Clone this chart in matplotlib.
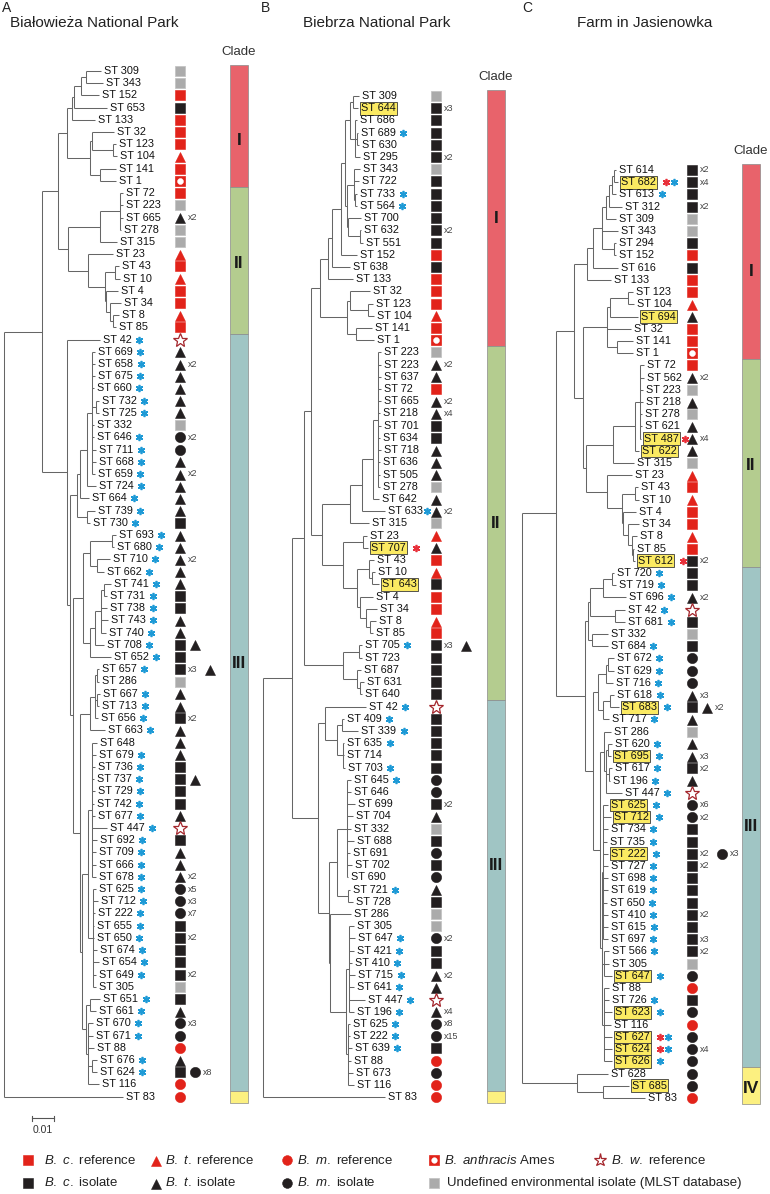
import re
import matplotlib
matplotlib.use('Agg')
import matplotlib.pyplot as plt
from matplotlib.patches import Rectangle
from matplotlib.collections import LineCollection

plt.rcParams['font.family'] = ['Liberation Sans', 'DejaVu Sans']
plt.rcParams['mathtext.fontset'] = 'custom'
plt.rcParams['mathtext.rm'] = 'Liberation Sans'
plt.rcParams['mathtext.it'] = 'Liberation Sans:italic'

# ------------------------------------------------------------------ data
PANEL_LETTERS = ['A', 'B', 'C']
PANEL_TITLES = ['Białowieża National Park', 'Biebrza National Park', 'Farm in Jasienowka']
CLADE_NAMES = ['I', 'II', 'III', 'IV']
CLADE_COLORS = ['#E8636B', '#B4CC8F', '#A0C5C4', '#FCF080']

# tree depths: distance from the root in units where 22 units = 0.01 substitutions/site
UNITS_PER_SUBST = 2200.0
SCALE_BAR_VALUE = 0.01

# ---- Panel A : Bialowieza National Park
A_LABELS = [309, 343, 152, 653, 133, 32, 123, 104, 141, 1,
            72, 223, 665, 278, 315, 23, 43, 10, 4, 34, 8, 85,
            42, 669, 658, 675, 660, 732, 725, 332, 646, 711, 668, 659, 724, 664, 739, 730,
            693, 680, 710, 662, 741, 731, 738, 743, 740, 708, 652,
            657, 286, 667, 713, 656, 663, 648, 679, 736, 737, 729, 742, 677, 447, 692, 709, 666, 678,
            625, 712, 222, 655, 650, 674, 654, 649, 305, 651, 661, 670, 671, 88, 676, 624, 116, 83]
A_SYMBOLS = ['G', 'G', 'Rs', 'Ks', 'Rs', 'Rs', 'Rs', 'Rt', 'Rs', 'Ba',
             'Rs', 'G', 'Kt2', 'G', 'G', 'Rt', 'Rs', 'Rt', 'Rs', 'Rs', 'Rt', 'Rs',
             'Bw', 'Kt', 'Kt2', 'Kt', 'Kt', 'Kt', 'Kt', 'G', 'Kc2', 'Kc', 'Kt', 'Kt2', 'Kt', 'Kt', 'Kt', 'Ks',
             'Kt', 'Kt', 'Kt2', 'Kt', 'Kt', 'Ks', 'Ks', 'Kt', 'Kt', 'Ks Kt', 'Ks',
             'Ks3 Kt', 'G', 'Kt', 'Kt', 'Ks2', 'Kt', 'Kt', 'Kt', 'Ks', 'Ks Kt', 'Ks', 'Ks', 'Kt', 'Bw', 'Ks', 'Kt', 'Kt', 'Kt2',
             'Kc5', 'Kc3', 'Kc7', 'Ks', 'Ks2', 'Ks', 'Ks', 'Ks2', 'G', 'Ks', 'Kt', 'Kc3', 'Kc', 'Rc', 'Kt', 'Ks Kc8', 'Rc', 'Rc']
# b = blue asterisk, r = red asterisk, x = red + blue, - = none
A_STARS = ('----------' '------------' 'bbbbbbb-bbbbbbbb' 'bbbbbbbbbbb'
           'b-bbbb-bbbbbbbbbbb' 'bbbbbbbb-bbbb-bb--')
A_HIGHLIGHT = '-' * 85
A_NEWICK = (
    "((("
    "(((((309:97,343:99):82,152:95):77,653:103):70,133:91):68,"
    "((32:110,(123:112,104:113):109):88,(141:112,1:112):96):86):63,"
    "(((72:119,223:119,665:119,278:117):116,315:113):96,"
    "(23:109,((43:115,10:116):111,(4:114,(34:117,(8:115,85:112):109):106):102):101):84):64"
    "):54,"
    "(42:96,("
    "((((669:91,658:91,675:91,660:90,(732:95,725:95):92,332:90,646:90,711:92,668:92,659:91):88,"
    "724:92):83,664:85):76,(739:91,730:86):83):73,"
    "((((693:112,680:110):108,(710:106,662:100):93):86,"
    "((((741:107,731:103):100,738:103,743:104,740:102):97,708:100):91,652:107):86):79,"
    "((((657:95,286:95):93,(667:96,713:95):93,656:94):91,663:101):86,"
    "(((648:93,679:92,736:91,737:90,729:91,742:90,677:91,447:103,692:93,709:92,666:92,678:92):88,"
    "(625:92,712:94,222:91,655:90,650:90,674:93,654:95,649:92,305:92):89):84,"
    "((651:96,661:92):86,(670:89,671:89,88:90,(676:93,624:93):88,116:95):84):82):78):76):69"
    "):66):63"
    "):38,83:119):0")
A_CLADE_ROWS = [(0, 9), (10, 21), (22, 83), (84, 84)]
A_CLADE_LABEL_ROWS = [5.7, 15.8, 48.5, None]

# ---- Panel B : Biebrza National Park
B_LABELS = [309, 644, 686, 689, 630, 295, 343, 722, 733, 564, 700, 632, 551, 152, 638, 133,
            32, 123, 104, 141, 1,
            223, 223, 637, 72, 665, 218, 701, 634, 718, 636, 505, 278, 642, 633, 315,
            23, 707, 43, 10, 643, 4, 34, 8, 85,
            705, 723, 687, 631, 640,
            42, 409, 339, 635, 714, 703,
            645, 646, 699, 704, 332, 688, 691, 702, 690, 721, 728,
            286, 305, 647, 421, 410, 715, 641, 447, 196, 625, 222, 639, 88, 673, 116,
            83]
B_SYMBOLS = ['G', 'Ks3', 'Ks', 'Ks', 'Ks', 'Ks2', 'G', 'Ks', 'Ks', 'Ks', 'Ks', 'Ks2', 'Ks', 'Rs', 'Ks', 'Rs',
             'Rs', 'Rs', 'Rt', 'Rs', 'Ba',
             'G', 'Kt2', 'Kt', 'Rs', 'Kt2', 'Kt4', 'Ks', 'Ks', 'Kt', 'Kt', 'Kt', 'G', 'Kt', 'Kt2', 'G',
             'Rt', 'Kt', 'Rs', 'Rt', 'Ks', 'Rs', 'Rs', 'Rt', 'Rs',
             'Ks3 Kt', 'Ks', 'Ks', 'Ks', 'Ks',
             'Bw', 'Ks', 'Ks', 'Ks', 'Ks', 'Ks',
             'Kc', 'Kc', 'Ks2', 'Kt', 'G', 'Ks', 'Kc', 'Ks', 'Kc', 'Kt', 'Ks',
             'G', 'G', 'Kc2', 'Ks', 'Ks', 'Kt2', 'Kt', 'Bw', 'Kt4', 'Kc8', 'Kc15', 'Ks', 'Rc', 'Kc', 'Rc',
             'Rc']
B_STARS = ('---b----bb------' '-----' '-------------b-' '-r-------' 'b----'
           'bbbb-b' 'b--------b-' '--bbbbbbbbbb---' '-')
B_HIGHLIGHT = ('-h--------------' '-----' '---------------' '-h--h----' '-----'
               '------' '-----------' '---------------' '-')
B_NEWICK = (
    "(((("
    "("
    "((((((309:96,644:95):90,(686:94,(689:95,630:96):94,295:97):92):87,"
    "((343:97,722:96,(733:94,564:94):92):91,(700:98,(632:98,551:100):97):85):84):82,"
    "152:94):78,638:87):69,133:90):65,"
    "((32:107,(123:110,104:111):105):87,(141:109,1:111):93):84):57,"
    "(((((223:118,223:118,637:118,72:118,665:118,218:117,701:118,634:117,718:118,636:117,"
    "505:117,278:117):115,642:116):110,633:122):99,315:106):87,"
    "((23:104,707:105):100,((43:111,(10:112,643:116):109):106,"
    "(4:110,(34:114,(8:113,85:110):107):103):97):94):80):59"
    "):48,"
    "((705:99,723:99):96,(687:98,(631:101,640:99):97):94):80"
    "):41,"
    "((42:103,((409:81,339:95):79,(635:81,714:81,703:82):80):74):62,"
    "(((645:88,646:88,699:92,704:90,332:88,688:91,691:87,702:89,690:85):84,(721:87,728:90):85):74,"
    "(286:88,((305:91,647:92,421:91,410:89,715:92,641:91,447:102,196:91):86,"
    "(625:87,222:87,639:89,88:88,673:90,116:91):85):83):67):66):55"
    "):29,83:122):0")
B_CLADE_ROWS = [(0, 20), (21, 49), (50, 81), (82, 82)]
B_CLADE_LABEL_ROWS = [10.0, 35.0, 63.0, None]

# ---- Panel C : Farm in Jasienowka
C_LABELS = [614, 682, 613, 312, 309, 343, 294, 152, 616, 133,
            123, 104, 694, 32, 141, 1,
            72, 562, 223, 218, 278, 621, 487, 622, 315,
            23, 43, 10, 4, 34, 8, 85, 612,
            720, 719, 696, 42, 681, 332, 684,
            672, 629, 716, 618, 683, 717,
            286, 620, 695, 617, 196, 447,
            625, 712, 734, 735, 222, 727, 698, 619, 650, 410, 615, 697,
            566, 305, 647,
            88, 726, 623, 116, 627, 624, 626,
            628, 685, 83]
C_SYMBOLS = ['Ks2', 'Ks4', 'Ks', 'Ks2', 'G', 'G', 'Ks', 'Rs', 'Ks', 'Rs',
             'Rs', 'Rt', 'Kt', 'Rs', 'Rs', 'Ba',
             'Rs', 'Kt2', 'G', 'Kt', 'G', 'Kt', 'Kt4', 'Kt', 'G',
             'Rt', 'Rs', 'Rt', 'Rs', 'Rs', 'Rt', 'Rs', 'Ks2',
             'Ks', 'Ks', 'Kt2', 'Bw', 'Ks', 'G', 'Ks',
             'Kc', 'Kc', 'Kc', 'Kt3', 'Ks Kt2', 'Kt',
             'G', 'Kt', 'Kt3', 'Ks2', 'Kt', 'Bw',
             'Kc6', 'Kc2', 'Ks', 'Ks', 'Ks2 Kc3', 'Ks2', 'Ks', 'Ks', 'Ks', 'Ks2', 'Ks', 'Ks3',
             'Ks2', 'G', 'Kc',
             'Rc', 'Ks', 'Kc', 'Rc', 'Kc', 'Kc4', 'Kc',
             'Kc', 'Kc', 'Rc']
C_STARS = ('-xb-------' '------' '------r--' '-------r' 'bbbbb-b' 'bbbbbb'
           '-bbbbb' 'bbbbbbbbbbbb' 'b-b' '-bb-xxb' '---')
C_HIGHLIGHT = ('-h--------' '--h---' '------hh-' '-------h' '-------' '----h-'
               '--h---' 'hh--h-------' '--h' '--h-hhh' '-h-')
C_NEWICK = (
    "((("
    "(((((((614:94,682:96):92,613:94):90,312:100):87,309:94):84,343:96,(294:94,152:94):92):80,"
    "616:96):71,133:89):65,"
    "((((123:111,104:112):106,694:116):88,32:109,(141:111,1:111):95):85,"
    "((((72:122,562:122,223:121,218:121,278:120,621:120,487:119):118,622:117):113,315:112):91,"
    "(23:110,((43:116,10:117):113,(4:114,(34:117,(8:115,(85:112,612:113):111):110):106):101):100):85"
    "):64):61):52,"
    "(((((720:92,719:94):90,696:104):81,(42:103,681:103):93):68,(332:86,684:86):70):66,"
    "((((672:92,629:92):86,716:91):84,((618:92,683:97):88,717:87):81):76,"
    "((286:89,((620:90,695:89):86,(617:90,196:88):87,447:100):84):82,"
    "((625:86,712:89,734:86,735:85,222:86,727:86,698:86,619:86,650:85,410:86,615:86,697:86):81,"
    "(566:87,305:87,647:90):82,(88:87,726:87,623:90,116:89,627:90,624:90,626:90):82):80):78):71):63"
    "):34,"
    "(628:86,(685:107,83:123):81):55):0")
C_CLADE_ROWS = [(0, 15), (16, 32), (33, 73), (74, 76)]
C_CLADE_LABEL_ROWS = [8.35, 24.2, 53.8, 75.2]

LEGEND_ROW1 = [('Rs', r'$\mathit{B.\ c.}$ reference'),
               ('Rt', r'$\mathit{B.\ t.}$ reference'),
               ('Rc', r'$\mathit{B.\ m.}$ reference'),
               ('Ba', r'$\mathit{B.\ anthracis}$ Ames'),
               ('Bw', r'$\mathit{B.\ w.}$ reference')]
LEGEND_ROW2 = [('Ks', r'$\mathit{B.\ c.}$ isolate'),
               ('Kt', r'$\mathit{B.\ t.}$ isolate'),
               ('Kc', r'$\mathit{B.\ m.}$ isolate'),
               ('G', 'Undefined environmental isolate (MLST database)')]

# ------------------------------------------------------------------ layout / style
W, H = 770, 1194
PANELS = [
    dict(labels=A_LABELS, symbols=A_SYMBOLS, stars=A_STARS, hl=A_HIGHLIGHT, newick=A_NEWICK,
         clade_rows=A_CLADE_ROWS, clade_lab=A_CLADE_LABEL_ROWS,
         root_x=4, y0=71, col_x=180, bar_x=230, letter_x=2, title_x=10),
    dict(labels=B_LABELS, symbols=B_SYMBOLS, stars=B_STARS, hl=B_HIGHLIGHT, newick=B_NEWICK,
         clade_rows=B_CLADE_ROWS, clade_lab=B_CLADE_LABEL_ROWS,
         root_x=263, y0=96, col_x=436, bar_x=487, letter_x=261, title_x=303),
    dict(labels=C_LABELS, symbols=C_SYMBOLS, stars=C_STARS, hl=C_HIGHLIGHT, newick=C_NEWICK,
         clade_rows=C_CLADE_ROWS, clade_lab=C_CLADE_LABEL_ROWS,
         root_x=522, y0=170, col_x=692, bar_x=742, letter_x=522, title_x=577),
]
DY = 12.21
PX_PER_UNIT = 1.0
BAR_W = 18
RED = '#E2231A'
BLACK = '#231F20'
GRAY = '#ABABAB'
BLUE_STAR = '#1E9AD6'
RED_STAR = '#E8303A'
LINE_COL = '#666666'
LABEL_FS = 7.8


def parse_newick(s):
    s = s.replace(' ', '')
    pos = 0

    def node():
        nonlocal pos
        kids = []
        name = None
        if s[pos] == '(':
            pos += 1
            kids.append(node())
            while s[pos] == ',':
                pos += 1
                kids.append(node())
            assert s[pos] == ')', s[pos:pos + 20]
            pos += 1
        else:
            m = re.match(r'[^:,()]+', s[pos:])
            name = m.group(0)
            pos += len(name)
        assert s[pos] == ':', s[pos:pos + 20]
        pos += 1
        m = re.match(r'[0-9.]+', s[pos:])
        pos += len(m.group(0))
        return {'name': name, 'depth': float(m.group(0)), 'kids': kids}

    root = node()
    assert pos == len(s), s[pos:]
    return root


def draw_symbol(ax, x, y, code, scale=1.0):
    base = code[0]
    if code == 'G':
        ax.plot(x, y, marker='s', ms=7 * scale, mfc=GRAY, mec='#C4C4C4', mew=0.6, zorder=4)
        return
    if code == 'Ba':
        ax.plot(x, y, marker='s', ms=7 * scale, mfc=RED, mec=RED, mew=0.5, zorder=4)
        ax.plot(x, y, marker='o', ms=4.3 * scale, mfc='white', mec='white', mew=0.3, zorder=5)
        return
    if code == 'Bw':
        ax.plot(x, y, marker='*', ms=10 * scale, mfc='white', mec='#A4262C', mew=0.9, zorder=4)
        return
    color = RED if base == 'R' else BLACK
    shape = code[1]
    if shape == 's':
        ax.plot(x, y, marker='s', ms=7 * scale, mfc=color, mec=color, mew=0.4, zorder=4)
    elif shape == 't':
        ax.plot(x, y + 0.6, marker='^', ms=7.4 * scale, mfc=color, mec=color, mew=0.4, zorder=4)
    elif shape == 'c':
        ax.plot(x, y, marker='o', ms=7.4 * scale, mfc=color, mec=color, mew=0.4, zorder=4)


fig = plt.figure(figsize=(W / 100, H / 100), dpi=100)
ax = fig.add_axes([0, 0, 1, 1])
ax.set_xlim(0, W)
ax.set_ylim(H, 0)
ax.axis('off')
renderer = fig.canvas.get_renderer()
inv = ax.transData.inverted()

for p_i, P in enumerate(PANELS):
    tree = parse_newick(P['newick'])
    leaves = []
    segs = []
    rx = P['root_x']

    def layout(n):
        x = rx + n['depth'] * PX_PER_UNIT
        if not n['kids']:
            row = len(leaves)
            y = P['y0'] + row * DY
            leaves.append((n['name'], x, y))
            return x, y
        pts = [layout(k) for k in n['kids']]
        ys = [q[1] for q in pts]
        segs.append([(x, min(ys)), (x, max(ys))])
        for (cx, cy) in pts:
            segs.append([(x, cy), (cx, cy)])
        return x, (ys[0] + ys[-1]) / 2

    layout(tree)
    assert [int(l[0]) for l in leaves] == P['labels'], p_i
    ax.add_collection(LineCollection(segs, colors=LINE_COL, linewidths=0.75, capstyle='butt'))

    texts = []
    for i, (name, x, y) in enumerate(leaves):
        hl = P['hl'][i] == 'h'
        kw = {}
        if hl:
            kw['bbox'] = dict(boxstyle='square,pad=0.12', fc='#FBEA62', ec='#3a3a3a', lw=0.6)
        t = ax.text(x + 3, y, f'ST {P["labels"][i]}', fontsize=LABEL_FS, ha='left', va='center',
                    color='#111111', zorder=6, **kw)
        texts.append((t, hl, y))
        # symbols
        sx = P['col_x']
        for code in P['symbols'][i].split():
            m = re.match(r'([A-Z][a-z]?)(\d*)', code)
            sym, cnt = m.group(1), m.group(2)
            draw_symbol(ax, sx, y, sym)
            if cnt:
                ax.text(sx + 8, y, f'x{cnt}', fontsize=6.4, color='#444444', ha='left', va='center')
                sx += 30
            else:
                sx += 15

    for i, (t, hl, y) in enumerate(texts):
        st = P['stars'][i]
        if st == '-':
            continue
        bb = t.get_window_extent(renderer)
        xe = inv.transform((bb.x1, bb.y0))[0]
        xe += 2.5 if hl else 0
        cols = {'b': [BLUE_STAR], 'r': [RED_STAR], 'x': [RED_STAR, BLUE_STAR]}[st]
        # keep the asterisks clear of the symbol column
        sx = min(xe + 7.5, P['col_x'] - 9 - 8 * (len(cols) - 1))
        sx = max(sx, xe + 3.5)
        for c in cols:
            ax.plot(sx, y, marker=(6, 2, 0), ms=5.2, mec=c, mew=1.2, zorder=5)
            sx += 8

    # clade bars
    for (r0, r1), cname, crow, ccol in zip(P['clade_rows'], CLADE_NAMES, P['clade_lab'], CLADE_COLORS):
        top = P['y0'] + (r0 - 0.5) * DY
        h = (r1 - r0 + 1) * DY
        ax.add_patch(Rectangle((P['bar_x'], top), BAR_W, h, fc=ccol, ec='#8a8a8a', lw=0.5, zorder=2))
        if crow is not None:
            ax.text(P['bar_x'] + BAR_W / 2, P['y0'] + crow * DY, cname, fontsize=12.5,
                    fontweight='bold', ha='center', va='center', color='#1a1a1a', zorder=3)
    bar_top = P['y0'] - 0.5 * DY
    ax.text(P['bar_x'] + BAR_W / 2, bar_top - 13, 'Clade', fontsize=9.5, ha='center',
            va='center', color='#333333')

    ax.text(P['letter_x'], 8, PANEL_LETTERS[p_i], fontsize=10, ha='left', va='center', color='#222222')
    ax.text(P['title_x'], 23, PANEL_TITLES[p_i], fontsize=11, ha='left', va='center', color='#222222')

# scale bar
sb_len = SCALE_BAR_VALUE * UNITS_PER_SUBST * PX_PER_UNIT
sb_x, sb_y = 32, 1118
ax.plot([sb_x, sb_x + sb_len], [sb_y, sb_y], color='#555555', lw=0.8)
ax.plot([sb_x, sb_x], [sb_y - 2.5, sb_y + 2.5], color='#555555', lw=0.8)
ax.plot([sb_x + sb_len, sb_x + sb_len], [sb_y - 2.5, sb_y + 2.5], color='#555555', lw=0.8)
ax.text(sb_x + sb_len / 2, sb_y + 12, f'{SCALE_BAR_VALUE:g}', fontsize=7.5, ha='center', va='center',
        color='#333333')

# legend
leg_mx = [28, 156, 287, 434, 600]
leg_tx = [44, 165, 297, 444, 611]
for row_items, ly in ((LEGEND_ROW1, 1160), (LEGEND_ROW2, 1183)):
    for j, (code, lab) in enumerate(row_items):
        draw_symbol(ax, leg_mx[j], ly, code, scale=0.95)
        tx = leg_tx[j] + (3 if code == 'G' else 0)
        ax.text(tx, ly, lab, fontsize=9.5, ha='left', va='center', color='#222222')

fig.savefig('out.png', dpi=100)
